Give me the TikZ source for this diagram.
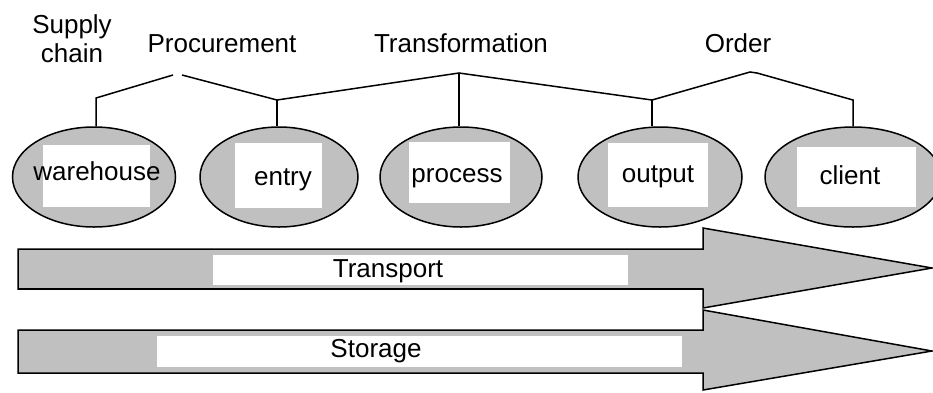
\documentclass[tikz,border=0pt]{standalone}
\usepackage{fontspec}
\setmainfont{Liberation Sans}
\usetikzlibrary{shapes.geometric}
\definecolor{fillgray}{RGB}{192,192,192}
\begin{document}
\begin{tikzpicture}[x=1pt,y=-1pt,
  stage/.style={ellipse,draw,fill=fillgray,line width=1.5pt,minimum height=100pt,inner sep=0pt},
  pane/.style={fill=white,inner sep=0pt,anchor=north west},
  lbl/.style={font=\fontsize{26}{30}\selectfont,anchor=base,inner sep=0pt},
  tree/.style={line width=1.5pt},
  bar/.style={fill=fillgray,draw,line width=1.5pt,line join=miter}]
\useasboundingbox (0,0) rectangle (933,392);

% ellipses
\node[stage,minimum width=163pt] (warehouse) at (94,177) {};
\node[stage,minimum width=158pt] (entry) at (279,177) {};
\node[stage,minimum width=162pt] (process) at (461,177) {};
\node[stage,minimum width=164pt] (output) at (660,177) {};
\node[stage,minimum width=176pt] (client) at (853,177) {};

% white panes
\node[pane,minimum width=107pt,minimum height=62pt] (pw) at (43,145) {};
\node[pane,minimum width=87pt,minimum height=65pt] (pe) at (235,143) {};
\node[pane,minimum width=101pt,minimum height=61pt] (pp) at (409,142) {};
\node[pane,minimum width=100pt,minimum height=64pt] (po) at (608,143) {};
\node[pane,minimum width=119pt,minimum height=60pt] (pc) at (797,147) {};

% ellipse texts
\node[lbl] (twarehouse) at (97,180) {warehouse};
\node[lbl] (tentry) at (283,185) {entry};
\node[lbl] (tprocess) at (457,182) {process};
\node[lbl] (toutput) at (658,182) {output};
\node[lbl] (tclient) at (850,184) {client};

% top labels
\node[lbl] (supply) at (72,33) {Supply};
\node[lbl] (chain) at (72,62) {chain};
\node[lbl] (procurement) at (222,52) {Procurement};
\node[lbl] (transformation) at (461,52) {Transformation};
\node[lbl] (order) at (738,52) {Order};

% tree coordinates
\coordinate (jw) at (96,98);
\coordinate (pk1a) at (173,75);
\coordinate (pk1b) at (182,75);
\coordinate (je) at (277,100);
\coordinate (pk2) at (459,73);
\coordinate (jo) at (652,100);
\coordinate (pk3a) at (750,72);
\coordinate (pk3b) at (757,73);
\coordinate (jc) at (853,100);

\draw[tree] (warehouse.north -| jw) -- (jw) -- (pk1a);
\draw[tree] (pk1b) -- (je) -- (pk2) -- (jo) -- (pk3a) -- (pk3b) -- (jc) -- (client.north -| jc);
\draw[tree] (je) -- (entry.north -| je);
\draw[tree] (pk2) -- (process.north -| pk2);
\draw[tree] (jo) -- (output.north -| jo);

% block arrows
\draw[bar] (18,249) -- (703,249) -- (703,228) -- (932,268) -- (703,308) -- (703,289) -- (18,289) -- cycle;
\draw[line width=2.6pt] (18,289) -- (703,289);
\draw[bar] (18,330) -- (703,330) -- (703,310) -- (932,351) -- (703,390) -- (703,373) -- (18,373) -- cycle;

\node[pane,minimum width=415pt,minimum height=30pt] (pt) at (213,255) {};
\node[pane,minimum width=525pt,minimum height=31pt] (ps) at (157,336) {};
\node[lbl] (transport) at (388,277) {Transport};
\node[lbl] (storage) at (376,357) {Storage};
\end{tikzpicture}
\end{document}
